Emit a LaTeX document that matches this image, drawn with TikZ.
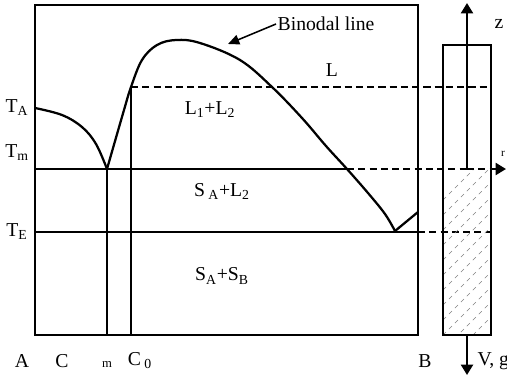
\documentclass[tikz,border=0pt]{standalone}
\usepackage{fontspec}
\setmainfont{Liberation Serif}
\usetikzlibrary{arrows.meta}

\begin{document}
\begin{tikzpicture}[x=0.025cm, y=-0.025cm, font=\fontsize{14}{16}\selectfont, >=Triangle,
  thick line/.style={line width=1.6pt},
  thin line/.style={line width=0.9pt},
  dash line/.style={dash pattern=on 5pt off 3pt},
  lbl/.style={inner sep=1pt}]
  \useasboundingbox (0,0) rectangle (507,377);
  % key points
  \coordinate (tl) at (35,5);
  \coordinate (br) at (418,335);
  \coordinate (ta) at (35,108);
  \coordinate (mp) at (107,169);
  \coordinate (cz) at (131,87);
  \coordinate (eb) at (395,231);
  \coordinate (ex) at (418,212);
  \coordinate (tmL) at (35,169);
  \coordinate (tmX) at (347,169);
  \coordinate (o) at (467,169);
  \coordinate (rx) at (506,169);
  \coordinate (teL) at (35,232);
  \coordinate (teR) at (418,232);
  \coordinate (teX) at (491,232);
  \coordinate (lR) at (491,87);
  % diagram frame
  \draw[thin line] (tl) rectangle (br);
  % lines of the diagram
  \draw[thin line] (teL) -- (teR);
  \draw[thin line, dash line] (teR) -- (teX);
  \draw[thin line, dash line] (cz) -- (lR);
  \draw[thin line] (mp) -- (mp |- br);
  \draw[thick line] (cz) -- (cz |- br);
  \draw[thick line] (tmL) -- (tmX);
  \draw[thick line, dash line] (tmX) -- (o);
  % binodal and liquidus curves
  \draw[thick line] plot[smooth, tension=0.6] coordinates
    {(35,108) (62,115) (82,127) (96,144) (107,169)};
  \draw[thick line] plot[smooth, tension=0.6] coordinates
    {(107,169) (124,110) (131,87) (142,60) (157,45) (176,40) (200,43) (240,60)
     (272,87) (302,118) (326,146) (347,169) (368,193) (385,214) (395,231)};
  \draw[thick line] (eb) -- (ex);
  % column
  \coordinate (c1) at (443,45);
  \coordinate (c2) at (491,335);
  \begin{scope}
    \clip (443,169) rectangle (491,335);
    \foreach \k in {0,...,14}
      \draw[gray, dashed, line width=0.4pt] (443,200+15*\k) -- ++(60,-60);
  \end{scope}
  \draw[thick line] (c1) rectangle (c2);
  \draw[thick line, dash line] (o) -- (491,169);
  \draw[thick line, ->] (491,169) -- (rx);
  \draw[thick line, ->] (o) -- (467,3);
  \draw[thick line, ->] (467,335) -- (467,375);
  % labels
  \node[lbl] (z) at (499,24) {z};
  \node[lbl, font=\fontsize{8}{9}\selectfont] (r) at (503,154) {r};
  \node[lbl, anchor=west] (vg) at (476,361) {V, g};
  \node[lbl] (TA) at (17,108) {T\textsubscript{A}};
  \node[lbl] (Tm) at (17,153) {T\textsubscript{m}};
  \node[lbl] (TE) at (17,232) {T\textsubscript{E}};
  \node[lbl] (A) at (22,361) {A};
  \node[lbl] (C) at (62,361) {C};
  \node[lbl, font=\fontsize{9}{10}\selectfont] (m) at (107,365) {m};
  \node[lbl] (C0) at (140,361) {C\,\textsubscript{0}};
  \node[lbl] (B) at (425,361) {B};
  \node[lbl] (L) at (332,70) {L};
  \node[lbl] (L12) at (210,110) {L\textsubscript{1}+L\textsubscript{2}};
  \node[lbl] (SAL) at (222,191) {S\,\textsubscript{A}+L\textsubscript{2}};
  \node[lbl] (SASB) at (222,276) {S\textsubscript{A}+S\textsubscript{B}};
  \node[lbl, anchor=west] (bin) at (276,24) {Binodal line};
  \draw[line width=1.1pt, ->, >={Triangle[length=8pt, width=7pt]}] (bin.west) -- (228,44);
\end{tikzpicture}
\end{document}
